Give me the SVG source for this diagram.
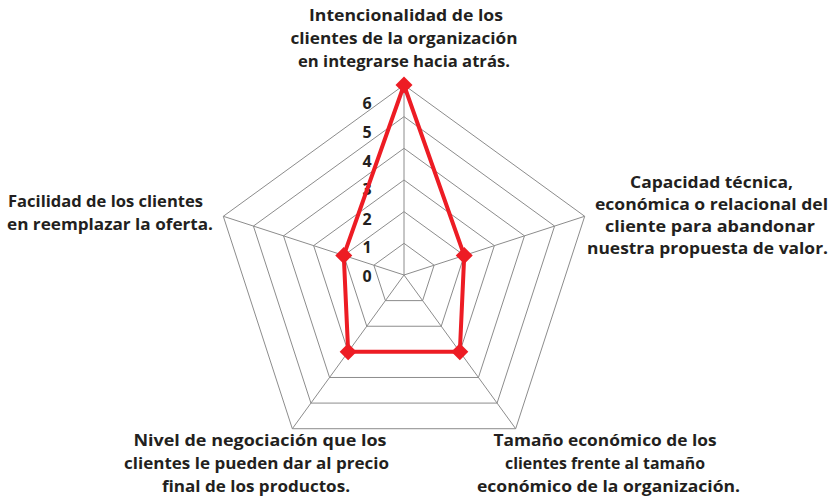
<svg xmlns="http://www.w3.org/2000/svg" width="831" height="499" viewBox="0 0 831 499">
<style>
.grid{fill:none;stroke:#8c8c8c;stroke-width:1}
.lbl{font-family:"Open Sans","Liberation Sans",sans-serif;font-weight:700;font-size:16.5px;fill:#231f20;text-anchor:middle}
.num{font-family:"Open Sans","Liberation Sans",sans-serif;font-weight:700;font-size:16px;fill:#231f20;text-anchor:middle}
.series{fill:none;stroke:#ed1c24;stroke-width:4;stroke-linejoin:round}
.mk{fill:#ed1c24}
</style>
<defs>
<path id="dia" d="M0,-8.5 L8.5,0 L0,8.5 L-8.5,0 Z"/>
</defs>
<rect width="831" height="499" fill="#ffffff"/>
<g id="grid">
<polygon class="grid" points="404,243.33 434.12,265.21 422.61,300.62 385.39,300.62 373.88,265.21"/>
<polygon class="grid" points="404,211.67 464.23,255.43 441.23,326.24 366.77,326.24 343.77,255.43"/>
<polygon class="grid" points="404,180 494.35,245.64 459.84,351.86 348.16,351.86 313.65,245.64"/>
<polygon class="grid" points="404,148.33 524.47,235.86 478.45,377.48 329.55,377.48 283.53,235.86"/>
<polygon class="grid" points="404,116.67 554.58,226.07 497.07,403.09 310.93,403.09 253.42,226.07"/>
<polygon class="grid" points="404,85 584.70,216.29 515.68,428.71 292.32,428.71 223.30,216.29"/>
</g>
<g id="connectors">
<line class="grid" x1="404" y1="275" x2="404" y2="85"/>
<line class="grid" x1="404" y1="275" x2="584.70" y2="216.29"/>
<line class="grid" x1="404" y1="275" x2="515.68" y2="428.71"/>
<line class="grid" x1="404" y1="275" x2="292.32" y2="428.71"/>
<line class="grid" x1="404" y1="275" x2="223.30" y2="216.29"/>
</g>
<g id="scale">
<text class="num" x="367" y="109">6</text>
<text class="num" x="367" y="138">5</text>
<text class="num" x="367" y="166.5">4</text>
<text class="num" x="367" y="195">3</text>
<text class="num" x="367" y="224.5">2</text>
<text class="num" x="367" y="253">1</text>
<text class="num" x="367" y="281.5">0</text>
</g>
<g id="series">
<polygon class="series" points="404,85 464.23,255.43 459.84,351.86 348.16,351.86 343.77,255.43"/>
<use href="#dia" class="mk" x="404" y="85"/>
<use href="#dia" class="mk" x="464.23" y="255.43"/>
<use href="#dia" class="mk" x="459.84" y="351.86"/>
<use href="#dia" class="mk" x="348.16" y="351.86"/>
<use href="#dia" class="mk" x="343.77" y="255.43"/>
</g>
<g id="label-top">
<text class="lbl" x="406" y="21" textLength="194" lengthAdjust="spacingAndGlyphs">Intencionalidad de los</text>
<text class="lbl" x="404" y="44" textLength="227" lengthAdjust="spacingAndGlyphs">clientes de la organización</text>
<text class="lbl" x="404" y="67" textLength="212" lengthAdjust="spacingAndGlyphs">en integrarse hacia atrás.</text>
</g>
<g id="label-right">
<text class="lbl" x="711.5" y="188" textLength="163" lengthAdjust="spacingAndGlyphs">Capacidad técnica,</text>
<text class="lbl" x="711.5" y="210" textLength="233" lengthAdjust="spacingAndGlyphs">económica o relacional del</text>
<text class="lbl" x="710" y="232" textLength="210" lengthAdjust="spacingAndGlyphs">cliente para abandonar</text>
<text class="lbl" x="707.5" y="254" textLength="241" lengthAdjust="spacingAndGlyphs">nuestra propuesta de valor.</text>
</g>
<g id="label-bottom-right">
<text class="lbl" x="605" y="446" textLength="223" lengthAdjust="spacingAndGlyphs">Tamaño económico de los</text>
<text class="lbl" x="605" y="469" textLength="200" lengthAdjust="spacingAndGlyphs">clientes frente al tamaño</text>
<text class="lbl" x="608.5" y="492" textLength="263" lengthAdjust="spacingAndGlyphs">económico de la organización.</text>
</g>
<g id="label-bottom-left">
<text class="lbl" x="260" y="446" textLength="253" lengthAdjust="spacingAndGlyphs">Nivel de negociación que los</text>
<text class="lbl" x="256.5" y="469" textLength="265" lengthAdjust="spacingAndGlyphs">clientes le pueden dar al precio</text>
<text class="lbl" x="256" y="492" textLength="188" lengthAdjust="spacingAndGlyphs">final de los productos.</text>
</g>
<g id="label-left">
<text class="lbl" x="105.5" y="207" textLength="195" lengthAdjust="spacingAndGlyphs">Facilidad de los clientes</text>
<text class="lbl" x="110" y="230" textLength="206" lengthAdjust="spacingAndGlyphs">en reemplazar la oferta.</text>
</g>
</svg>
